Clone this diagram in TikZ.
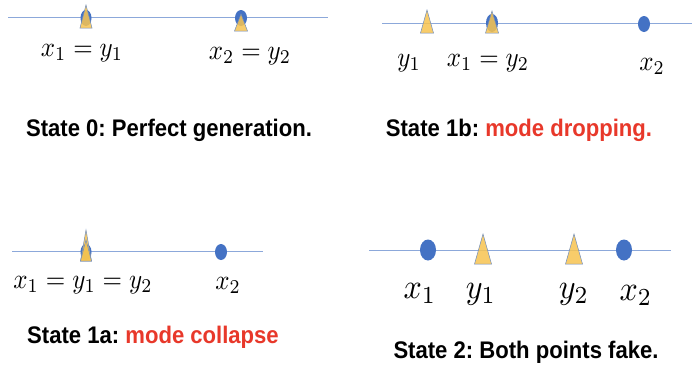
\documentclass[tikz,border=0pt]{standalone}
\usepackage{fontspec}
\setmainfont{Liberation Sans}
\frenchspacing
\definecolor{axisblue}{RGB}{140,168,218}
\definecolor{dotblue}{RGB}{68,114,196}
\definecolor{trigold}{RGB}{247,196,80}
\definecolor{tribord}{RGB}{110,140,190}
\definecolor{modered}{RGB}{232,56,42}
\tikzset{
  axisline/.style={draw=axisblue,line width=1pt},
  realdot/.style={fill=dotblue},
  fakesym/.style={fill=trigold, fill opacity=0.85, draw=tribord, line width=0.5pt},
  mathlbl/.style={anchor=base, inner sep=0pt},
  statetitle/.style={font=\fontsize{24}{28}\selectfont\bfseries, anchor=base, inner sep=0pt},
}
\newcommand\faketri[4]{\path[fakesym] (#1-#4,#3) -- (#1,#2) -- (#1+#4,#3) -- cycle;}
\newcommand\realpt[4]{\path[realdot] (#1,#2) ellipse[x radius=#3, y radius=#4];}
\newcommand\mlbl[1]{\scalebox{2.5}[2.8]{$#1$}}
\newcommand\mbig[1]{\scalebox{3.2}[3.5]{$#1$}}
\begin{document}
\begin{tikzpicture}[x=1pt,y=-1pt]
\useasboundingbox[fill=white] (0,0) rectangle (692,365);
% ---------- State 0 ----------
\draw[axisline] (8,17) -- (328,17);
\realpt{86}{18}{5.5}{8}
\faketri{86}{5}{28}{6}
\realpt{241}{18}{6}{8}
\faketri{241}{14}{31}{6.5}
\node[mathlbl] (l0a) at (82,56) {\mlbl{x_1=y_1}};
\node[mathlbl] (l0b) at (250,59) {\mlbl{x_2=y_2}};
\node[statetitle] (t0) at (169,136) {\scalebox{0.92}[1]{State 0: Perfect generation.}};
% ---------- State 1b ----------
\draw[axisline] (382,23) -- (692,23);
\faketri{427}{10}{33}{6.5}
\realpt{492}{23}{6}{9}
\faketri{492}{11}{33}{6.5}
\realpt{644}{24}{6}{8}
\node[mathlbl] (l1a) at (409,66) {\mlbl{y_1}};
\node[mathlbl] (l1b) at (488,66) {\mlbl{x_1=y_2}};
\node[mathlbl] (l1c) at (652,70) {\mlbl{x_2}};
\node[statetitle] (t1b) at (519,136) {\scalebox{0.92}[1]{State 1b: \textcolor{modered}{mode dropping.}}};
% ---------- State 1a ----------
\draw[axisline] (12,251) -- (263,251);
\realpt{86}{252}{5.5}{8}
\faketri{86}{230}{261}{5.5}
\faketri{86}{240}{261}{5.5}
\realpt{221}{252}{6}{8}
\node[mathlbl] (l2a) at (83,288) {\mlbl{x_1=y_1=y_2}};
\node[mathlbl] (l2b) at (228,289) {\mlbl{x_2}};
\node[statetitle] (t1a) at (153,343) {\scalebox{0.92}[1]{State 1a: \textcolor{modered}{mode collapse}}};
% ---------- State 2 ----------
\draw[axisline] (369,250) -- (671,250);
\realpt{428}{250}{8}{10.5}
\faketri{483}{234}{264}{8.5}
\faketri{574}{234}{264}{8.5}
\realpt{624}{250}{8}{10.5}
\node[mathlbl] (l3a) at (420,298) {\mbig{x_1}};
\node[mathlbl] (l3b) at (481,298) {\mbig{y_1}};
\node[mathlbl] (l3c) at (574,298) {\mbig{y_2}};
\node[mathlbl] (l3d) at (636,300) {\mbig{x_2}};
\node[statetitle] (t2) at (526,358) {\scalebox{0.92}[1]{State 2: Both points fake.}};
\end{tikzpicture}
\end{document}
